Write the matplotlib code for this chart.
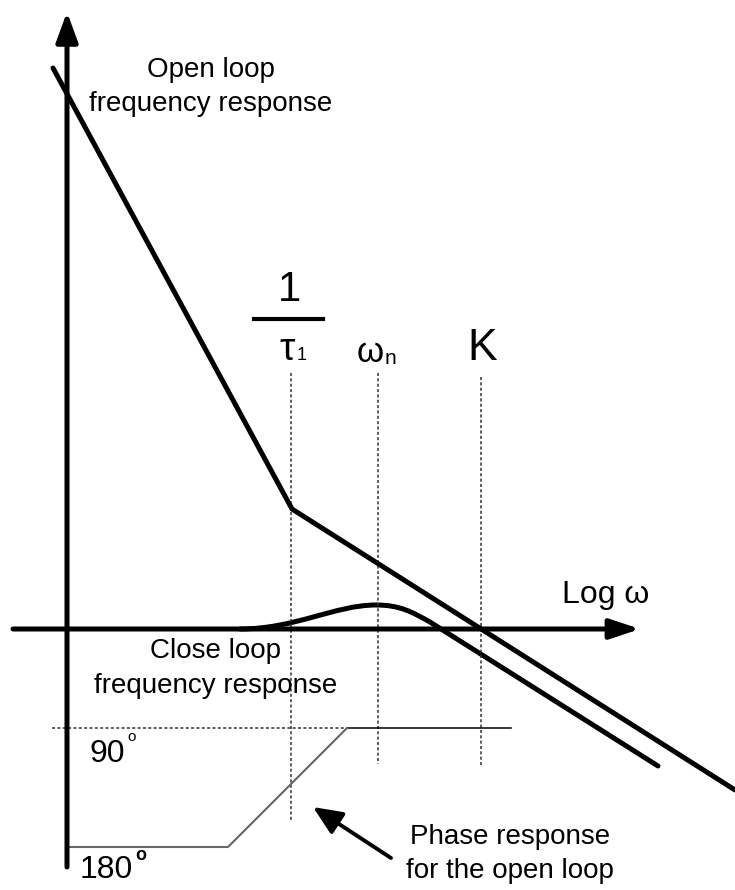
import matplotlib
matplotlib.use("Agg")
import matplotlib.pyplot as plt
from matplotlib.path import Path
from matplotlib.patches import PathPatch

plt.rcParams['font.family'] = ['Liberation Sans', 'DejaVu Sans']

# diagram coordinates (x grows with log w, y grows downward)
axis_origin = (67, 629)
x_axis_start, x_axis_end = 13, 640
y_axis_bottom, y_axis_top = 867, 12

# corner frequencies
w_tau1 = 291
w_n = 378
w_K = 481
marker_top = [373, 373, 377]
marker_bottom = [820, 764, 767]

# open loop asymptotes
open_x = [53, 292, 735]
open_y = [68, 509, 790]

# closed loop: flat, resonant bump, then roll-off
closed_pts = [(240, 629), (295, 629), (335, 605), (376, 605),
              (400, 605), (412, 612), (430, 622), (658, 766)]
closed_codes = [Path.MOVETO, Path.CURVE4, Path.CURVE4, Path.CURVE4,
                Path.CURVE4, Path.CURVE4, Path.CURVE4, Path.LINETO]

# phase: 90 deg level and 180 deg level
phase_90 = 728
phase_180 = 847
phase_x = [67, 228, 347, 511]
phase_y = [phase_180, phase_180, phase_90, phase_90]

fig = plt.figure(figsize=(7.35, 8.90), dpi=100)
ax = fig.add_axes([0, 0, 1, 1])
ax.set_xlim(0, 735)
ax.set_ylim(890, 0)
ax.axis('off')

lw = 3.6

# axes with arrow heads
ax.annotate('', xy=(x_axis_end, axis_origin[1]), xytext=(x_axis_start, axis_origin[1]),
            arrowprops=dict(arrowstyle='-|>,head_length=0.6,head_width=0.2', lw=lw,
                            color='black', mutation_scale=30, shrinkA=0, shrinkB=0))
ax.annotate('', xy=(axis_origin[0], y_axis_top), xytext=(axis_origin[0], y_axis_bottom),
            arrowprops=dict(arrowstyle='-|>,head_length=0.6,head_width=0.22', lw=lw,
                            color='black', mutation_scale=30, shrinkA=0, shrinkB=0))

# frequency markers
for xv, y0, y1 in zip([w_tau1, w_n, w_K], marker_top, marker_bottom):
    ax.plot([xv, xv], [y0, y1], color='#333333', lw=1.1, ls=(0, (2, 1.5)))

# open loop response
ax.plot(open_x, open_y, color='black', lw=lw, solid_capstyle='round', solid_joinstyle='miter')

# closed loop response
ax.add_patch(PathPatch(Path(closed_pts, closed_codes), fill=False, lw=lw,
                       edgecolor='black', capstyle='round'))

# phase response
ax.plot([52, 347], [phase_90, phase_90], color='#333333', lw=1.1, ls=(0, (2, 1.5)))
ax.plot(phase_x[2:], phase_y[2:], color='black', lw=1.1)
ax.plot(phase_x[:3], phase_y[:3], color='#666666', lw=1.5)

# pointer to the phase curve
ax.annotate('', xy=(313, 807), xytext=(391, 858),
            arrowprops=dict(arrowstyle='-|>,head_length=0.8,head_width=0.35', lw=2.8,
                            color='black', mutation_scale=22, shrinkA=0, shrinkB=0))

# labels
ax.text(211, 70, 'Open loop', fontsize=20, ha='center', va='center')
ax.text(211, 104, 'frequency response', fontsize=20, ha='center', va='center')
ax.text(216, 651, 'Close loop', fontsize=20, ha='center', va='center')
ax.text(216, 686, 'frequency response', fontsize=20, ha='center', va='center')
ax.text(510, 837, 'Phase response', fontsize=20, ha='center', va='center')
ax.text(510, 871, 'for the open loop', fontsize=20, ha='center', va='center')
ax.text(606, 595, 'Log ω', fontsize=23, ha='center', va='center')

ax.text(289, 290, '1', fontsize=30, ha='center', va='center')
ax.plot([254, 323], [319, 319], color='black', lw=3)
ax.text(287, 350, 'τ', fontsize=28, ha='center', va='center')
ax.text(302, 356, '1', fontsize=13, ha='center', va='center')
ax.text(370, 352, 'ω', fontsize=25, ha='center', va='center')
ax.text(390, 358, 'n', fontsize=15, ha='center', va='center')
ax.text(482, 348, 'K', fontsize=32, ha='center', va='center')

ax.text(107, 754, '90', fontsize=23, ha='center', va='center')
ax.text(132, 737, 'o', fontsize=11, ha='center', va='center')
ax.text(106, 870, '180', fontsize=23, ha='center', va='center')
ax.text(141, 855, 'o', fontsize=13, fontweight='bold', ha='center', va='center')

fig.savefig('out.png', dpi=100)
